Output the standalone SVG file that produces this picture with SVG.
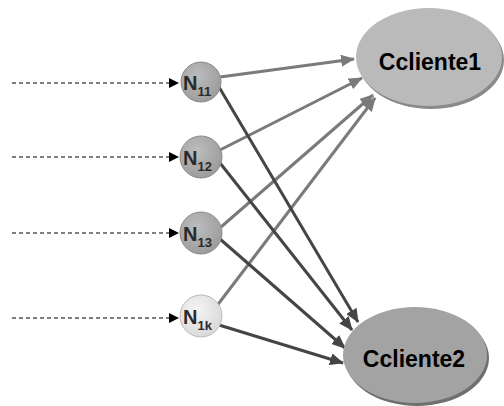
<svg xmlns="http://www.w3.org/2000/svg" width="504" height="406" viewBox="0 0 504 406">
<style>
.in{stroke:#000;stroke-width:1.2;stroke-dasharray:4 3;fill:none}
.g{stroke:#7a7a7a;stroke-width:3;fill:none}
.d{stroke:#454545;stroke-width:3;fill:none}
.nt{font-family:"Liberation Sans",Arial,sans-serif;font-weight:bold;fill:#2a2a2a;font-size:20px}
.sb{font-size:13px}
.ct{font-family:"Liberation Sans",Arial,sans-serif;font-weight:bold;font-size:23px;fill:#000;text-anchor:middle}
</style>
<defs>
<marker id="ab" markerWidth="10" markerHeight="10" refX="9" refY="5" orient="auto" markerUnits="userSpaceOnUse"><path d="M0,0 L10,5 L0,10 z" fill="#000"/></marker>
<marker id="ag" markerWidth="14" markerHeight="12" refX="13" refY="6" orient="auto" markerUnits="userSpaceOnUse"><path d="M0,0 L14,6 L0,12 z" fill="#7a7a7a"/></marker>
<marker id="ad" markerWidth="14" markerHeight="12" refX="13" refY="6" orient="auto" markerUnits="userSpaceOnUse"><path d="M0,0 L14,6 L0,12 z" fill="#454545"/></marker>
<radialGradient id="gn" cx="0.4" cy="0.35" r="0.7"><stop offset="0" stop-color="#bdbdbd"/><stop offset="1" stop-color="#9a9a9a"/></radialGradient>
<radialGradient id="gl" cx="0.4" cy="0.35" r="0.7"><stop offset="0" stop-color="#f4f4f4"/><stop offset="1" stop-color="#d8d8d8"/></radialGradient>
</defs>
<g id="connectors">
<line class="in" x1="12" y1="83" x2="178" y2="83" marker-end="url(#ab)"/>
<line class="in" x1="12" y1="157" x2="178" y2="157" marker-end="url(#ab)"/>
<line class="in" x1="12" y1="233" x2="178" y2="233" marker-end="url(#ab)"/>
<line class="in" x1="12" y1="318" x2="178" y2="318" marker-end="url(#ab)"/>
<line class="g" x1="220" y1="77" x2="354" y2="59" marker-end="url(#ag)"/>
<line class="g" x1="220" y1="150" x2="362" y2="78" marker-end="url(#ag)"/>
<line class="g" x1="221" y1="227" x2="373" y2="95" marker-end="url(#ag)"/>
<line class="g" x1="216" y1="307" x2="375" y2="98" marker-end="url(#ag)"/>
<line class="d" x1="219" y1="87" x2="358" y2="322" marker-end="url(#ad)"/>
<line class="d" x1="220" y1="163" x2="352" y2="330" marker-end="url(#ad)"/>
<line class="d" x1="220" y1="239" x2="345" y2="348" marker-end="url(#ad)"/>
<line class="d" x1="219" y1="325" x2="343" y2="363" marker-end="url(#ad)"/>
</g>
<g id="n11"><circle cx="201" cy="82" r="20" fill="url(#gn)" stroke="#8a8a8a"/><text class="nt" x="183" y="90">N<tspan class="sb" dy="6">11</tspan></text></g>
<g id="n12"><circle cx="201" cy="157" r="21" fill="url(#gn)" stroke="#8a8a8a"/><text class="nt" x="183" y="165">N<tspan class="sb" dy="6">12</tspan></text></g>
<g id="n13"><circle cx="201" cy="233" r="21" fill="url(#gn)" stroke="#8a8a8a"/><text class="nt" x="183" y="241">N<tspan class="sb" dy="6">13</tspan></text></g>
<g id="n1k"><circle cx="201" cy="316" r="21" fill="url(#gl)" stroke="#bbb"/><text class="nt" x="183" y="324">N<tspan class="sb" dy="6">1k</tspan></text></g>
<g id="c1"><ellipse cx="431" cy="60" rx="73" ry="49" fill="#8a8a8a"/><ellipse cx="429" cy="57" rx="73" ry="49" fill="#bababa"/><text class="ct" x="430" y="70">Ccliente1</text></g>
<g id="c2"><ellipse cx="417" cy="358" rx="72" ry="48" fill="#6f6f6f"/><ellipse cx="415" cy="355" rx="72" ry="48" fill="#a3a3a3"/><text class="ct" x="414" y="367">Ccliente2</text></g>
</svg>
